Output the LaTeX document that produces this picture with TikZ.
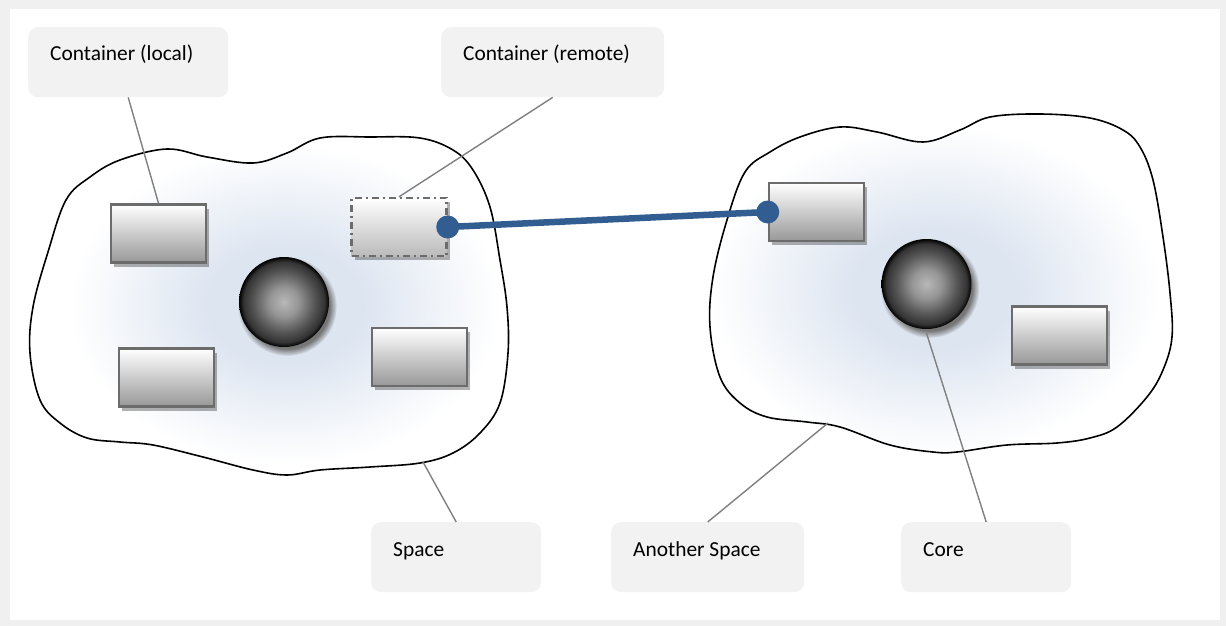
\documentclass[tikz,border=0pt]{standalone}
\usepackage{fontspec}
\setmainfont{Carlito}
\usetikzlibrary{shadows,calc}

\definecolor{framegray}{RGB}{240,240,240}
\definecolor{labelfill}{RGB}{242,242,242}
\definecolor{leadgray}{RGB}{128,128,128}
\definecolor{boxedge}{RGB}{108,108,108}
\definecolor{boxbottom}{RGB}{152,152,152}
\definecolor{hazecol}{RGB}{221,229,241}
\definecolor{linkblue}{RGB}{50,93,145}
\definecolor{spherelight}{RGB}{184,184,184}
\definecolor{spheremid}{RGB}{150,150,150}
\definecolor{spheredark}{RGB}{85,85,85}
\definecolor{sphereshadow}{RGB}{118,118,118}

% soft glow inside each space
\pgfdeclareradialshading{spaceglow}{\pgfpoint{0bp}{0bp}}{%
  color(0bp)=(hazecol); color(9bp)=(hazecol); color(25bp)=(white); color(50bp)=(white)}
% shaded ball for the cores
\pgfdeclareradialshading{coreball}{\pgfpoint{0bp}{0bp}}{%
  color(0bp)=(spherelight); color(8bp)=(spheremid); color(17bp)=(spheredark);
  color(22.5bp)=(black!80); color(25bp)=(black); color(50bp)=(black)}

\tikzset{
  labelbox/.style={fill=labelfill, rounded corners=10pt, anchor=north west, inner sep=0pt,
    minimum height=70pt},
  labeltext/.style={anchor=base west, inner sep=0pt, font=\fontsize{21.4pt}{25pt}\selectfont},
  lead/.style={draw=leadgray, line width=1.4pt},
  spaceline/.style={draw=black, line width=1.6pt},
  container/.style={draw=boxedge, line width=2.5pt, top color=white, bottom color=boxbottom,
    minimum width=95pt, minimum height=58pt, inner sep=0pt,
    drop shadow={shadow xshift=3pt, shadow yshift=-4pt, fill=black, opacity=0.3}},
  remote/.style={container, draw=boxedge, line width=2.4pt,
    dash pattern=on 7pt off 4pt on 2pt off 4pt, bottom color=black!27},
  core/.style={circle, minimum size=90pt, inner sep=0pt, shading=coreball,
    circular drop shadow={shadow xshift=3pt, shadow yshift=-4pt, fill=sphereshadow, opacity=1}},
  link/.style={draw=linkblue, line width=6.5pt},
  linkdot/.style={fill=linkblue}
}

\begin{document}
\begin{tikzpicture}[x=1pt,y=-1pt]
  % frame
  \fill[framegray] (0,0) rectangle (1226,626);
  \fill[white] (10,9) rectangle (1220,620);
  \useasboundingbox (0,0) rectangle (1226,626);

  % left space outline
  \def\leftspace{plot[smooth cycle, tension=0.6] coordinates {
    (30,353) (33,307) (48,252) (66,200) (90,177) (120,160) (167,149) (207,157)
    (253,163) (287,153) (320,138) (370,137) (420,138) (453,150) (473,170)
    (490,207) (500,260) (507,307) (508,353) (500,403) (480,433) (453,453)
    (420,463) (370,467) (320,470) (287,475) (253,470) (203,457) (153,445)
    (120,442) (87,438) (60,423) (40,400)}}
  % right space outline
  \def\rightspace{plot[smooth cycle, tension=0.6] coordinates {
    (710,327) (713,277) (727,220) (745,172) (770,152) (800,137) (840,127)
    (877,132) (923,142) (960,130) (990,117) (1040,114) (1090,118) (1123,130)
    (1140,147) (1153,180) (1163,237) (1170,293) (1172,337) (1163,370)
    (1147,397) (1117,427) (1090,438) (1057,443) (1007,445) (957,452)
    (933,452) (890,445) (840,427) (807,422) (767,417) (740,403) (720,377)}}

  \begin{scope}
    \clip \leftspace;
    \shade[shading=spaceglow] (285,305) ellipse [x radius=215, y radius=160];
  \end{scope}
  \begin{scope}
    \clip \rightspace;
    \shade[shading=spaceglow] (935,290) ellipse [x radius=225, y radius=165];
  \end{scope}
  \draw[spaceline] \leftspace;
  \draw[spaceline] \rightspace;

  \coordinate (spaceedge) at (423,462);
  \coordinate (otheredge) at (828,423);

  % containers of the left space
  \node[container] (lc1) at (158.5,233.5) {};
  \node[container] (lc2) at (166.5,377.5) {};
  \node[container] (lc3) at (419.5,357) {};
  \node[remote]    (rem) at (399,227) {};
  \node[core]      (core1) at (284,302) {};

  % containers of the right space
  \node[container] (rc1) at (816.5,212) {};
  \node[container] (rc2) at (1059.5,335.5) {};
  \node[core]      (core2) at (926.5,284) {};

  % link between the remote container and its counterpart
  \draw[link] (rem.east) -- (rc1.west);
  \fill[linkdot] (rem.east) circle (11.5);
  \fill[linkdot] (rc1.west) circle (11.5);

  % callout boxes
  \node[labelbox, minimum width=200pt] (llocal) at (28,27) {};
  \node[labeltext] at ($(llocal.north west)+(22,34)$) {Container (local)};
  \node[labelbox, minimum width=223pt] (lremote) at (441,27) {};
  \node[labeltext] at ($(lremote.north west)+(22,34)$) {Container (remote)};
  \node[labelbox, minimum width=170pt] (lspace) at (371,522) {};
  \node[labeltext] at ($(lspace.north west)+(22,34)$) {Space};
  \node[labelbox, minimum width=193pt] (lother) at (611,522) {};
  \node[labeltext] at ($(lother.north west)+(22,34)$) {Another Space};
  \node[labelbox, minimum width=170pt] (lcore) at (901,522) {};
  \node[labeltext] at ($(lcore.north west)+(22,34)$) {Core};

  % leader lines
  \draw[lead] (llocal.south) -- (lc1.north);
  \draw[lead] (lremote.south) -- (rem.north);
  \draw[lead] (lspace.north) -- (spaceedge);
  \draw[lead] (lother.north) -- (otheredge);
  \draw[lead] (lcore.north) -- ($(core2.south)+(0,4)$);
\end{tikzpicture}
\end{document}
